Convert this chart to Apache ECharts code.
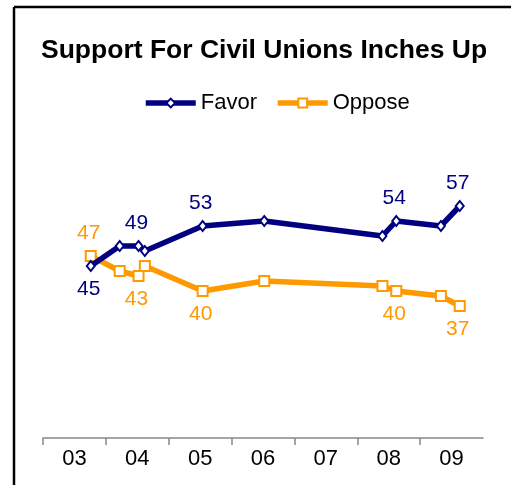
<!DOCTYPE html>
<html>
<head>
<meta charset="utf-8">
<script src="https://cdn.jsdelivr.net/npm/echarts@6/dist/echarts.min.js"></script>
<style>
html,body{margin:0;padding:0;background:#fff;}
#chart{width:511px;height:485px;}
</style>
</head>
<body>
<div id="chart"></div>
<script>
// Survey dates as decimal years
var dates = [2003.76, 2004.22, 2004.52, 2004.62, 2005.54, 2006.52, 2008.40, 2008.62, 2009.33, 2009.63];
var favor = [45, 49, 49, 48, 53, 54, 51, 54, 53, 57];
var oppose = [47, 44, 43, 45, 40, 42, 41, 40, 39, 37];
var favorLabelIdx = [0, 2, 4, 7, 9];
var favorLabelPos = ['bottom', 'top', 'top', 'top', 'top'];
var opposeLabelIdx = [0, 2, 4, 7, 9];
var opposeLabelPos = ['top', 'bottom', 'bottom', 'bottom', 'bottom'];
var yearTicks = [2003, 2004, 2005, 2006, 2007, 2008, 2009];
var yearLabels = ['03', '04', '05', '06', '07', '08', '09'];

var NAVY = '#000080', ORANGE = '#FF9900';
var FONT = '"Liberation Sans", Arial, sans-serif';

function build(vals, idx, pos, color) {
  return vals.map(function (v, i) {
    var k = idx.indexOf(i);
    var item = { value: [dates[i], v] };
    if (k >= 0) {
      item.label = { show: true, position: pos[k], distance: 7, color: color, fontSize: 21, fontFamily: FONT, offset: [-2, pos[k] === 'top' ? 1 : 0] };
    }
    return item;
  });
}

var chart = echarts.init(document.getElementById('chart'), null, { renderer: 'canvas' });
chart.setOption({
  animation: false,
  backgroundColor: '#fff',
  title: {
    text: 'Support For Civil Unions Inches Up',
    left: 36, top: 32,
    textStyle: { fontSize: 26.5, fontWeight: 'bold', color: '#000', fontFamily: FONT }
  },
  legend: {
    left: 143, top: 92, padding: 0,
    itemWidth: 50, itemHeight: 11, itemGap: 18,
    lineStyle: { width: 5.5 },
    textStyle: { fontSize: 22, color: '#000', fontFamily: FONT },
    data: ['Favor', 'Oppose']
  },
  graphic: [
    { type: 'line', shape: { x1: 14, y1: 7, x2: 511, y2: 7 }, style: { stroke: '#000', lineWidth: 2.5 } },
    { type: 'line', shape: { x1: 14, y1: 7, x2: 14, y2: 485 }, style: { stroke: '#000', lineWidth: 2.5 } }
  ],
  grid: { left: 43, right: 28, top: 141, bottom: 47, containLabel: false },
  xAxis: {
    type: 'value', min: 2003, max: 2010,
    axisLine: { show: true, lineStyle: { color: '#888', width: 1.5 } },
    axisTick: { show: true, customValues: yearTicks, length: 7, lineStyle: { color: '#888', width: 1.5 } },
    axisLabel: {
      customValues: yearTicks.map(function (y) { return y + 0.5; }),
      formatter: function (v) { return yearLabels[Math.floor(v) - 2003]; },
      fontSize: 22, color: '#000', fontFamily: FONT, margin: 10
    },
    splitLine: { show: false }
  },
  yAxis: {
    type: 'value', min: 10.6, max: 70, show: false,
    splitLine: { show: false }
  },
  series: [
    {
      name: 'Favor', type: 'line',
      data: build(favor, favorLabelIdx, favorLabelPos, NAVY),
      lineStyle: { color: NAVY, width: 5.5 },
      itemStyle: { color: '#fff', borderColor: NAVY, borderWidth: 2 },
      symbol: 'diamond', symbolSize: [8, 10], showAllSymbol: true,
      z: 3
    },
    {
      name: 'Oppose', type: 'line',
      data: build(oppose, opposeLabelIdx, opposeLabelPos, ORANGE),
      lineStyle: { color: ORANGE, width: 5.5 },
      itemStyle: { color: '#fff', borderColor: ORANGE, borderWidth: 2 },
      symbol: 'rect', symbolSize: 10, showAllSymbol: true,
      z: 2
    }
  ]
});
</script>
</body>
</html>
